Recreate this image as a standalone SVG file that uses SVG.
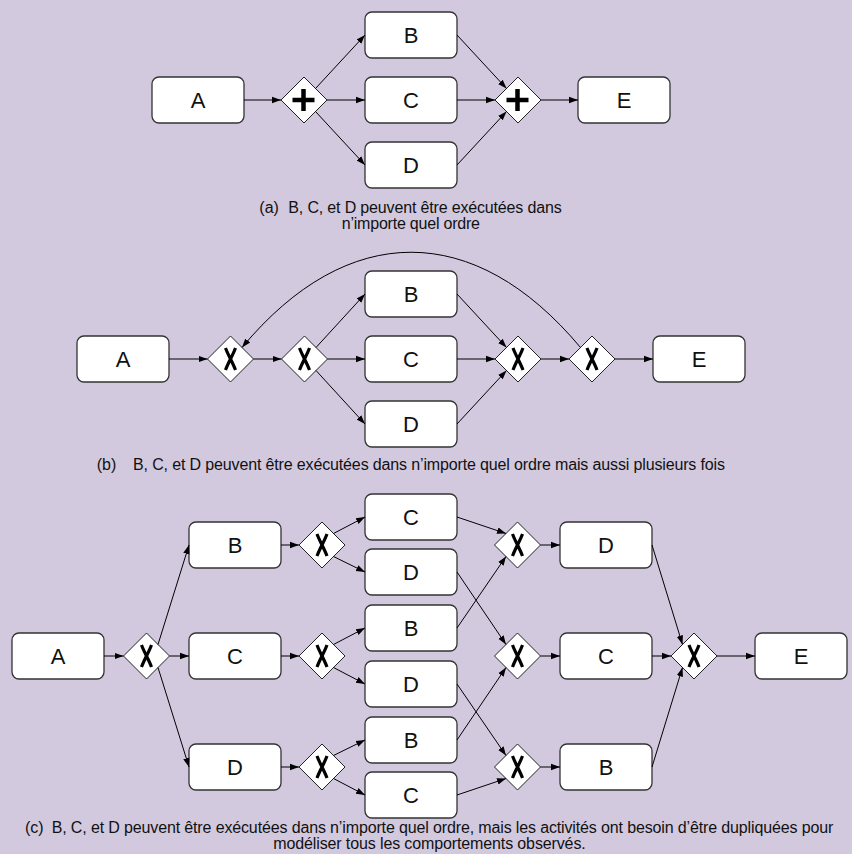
<svg xmlns="http://www.w3.org/2000/svg" xmlns:xlink="http://www.w3.org/1999/xlink" width="852" height="854" viewBox="0 0 852 854">
<style>
.bg{fill:#D2C9DF}
.box rect{fill:#fff;stroke:#333;stroke-width:1.3}
.box text{font-family:"Liberation Sans",Arial,sans-serif;font-size:22px;fill:#111;text-anchor:middle}
.gw polygon{fill:#fff;stroke:#222;stroke-width:1}
.plus{stroke:#000;stroke-width:4.5;fill:none}
.xs{stroke:#000;stroke-width:3.2;fill:none;stroke-linecap:butt}
.edges path{stroke:#000;stroke-width:1;fill:none;marker-end:url(#ah)}
.cap{font-family:"Liberation Sans",Arial,sans-serif;font-size:16px;fill:#111}
</style>
<defs>
<marker id="ah" markerUnits="userSpaceOnUse" markerWidth="10" markerHeight="8" refX="9" refY="4" orient="auto">
<path d="M0,0.8 L9,4 L0,7.2 Z" fill="#000"/>
</marker>
<path id="xg" d="M-5,-11 C-2,-3 2,3 5,11 M5,-11 C2,-3 -2,3 -5,11"/>
<path id="pg" d="M-11.5,0 H10.5 M-0.5,-11 V11"/>
</defs>
<rect class="bg" x="0" y="0" width="852" height="854"/>

<!-- (a) -->
<g id="a_A" class="box"><rect x="152" y="77" width="92" height="46" rx="7"/><text x="198" y="108">A</text></g>
<g id="a_B" class="box"><rect x="365" y="12" width="92" height="46" rx="7"/><text x="411" y="43">B</text></g>
<g id="a_C" class="box"><rect x="365" y="77" width="92" height="46" rx="7"/><text x="411" y="108">C</text></g>
<g id="a_D" class="box"><rect x="365" y="142" width="92" height="46" rx="7"/><text x="411" y="173">D</text></g>
<g id="a_E" class="box"><rect x="578" y="77" width="92" height="46" rx="7"/><text x="624" y="108">E</text></g>
<g id="a_G1" class="gw" transform="translate(304,100)"><polygon points="0,-23 23,0 0,23 -23,0"/><use xlink:href="#pg" class="plus"/></g>
<g id="a_G2" class="gw" transform="translate(518,100)"><polygon points="0,-23 23,0 0,23 -23,0"/><use xlink:href="#pg" class="plus"/></g>

<!-- (b) -->
<g id="b_A" class="box"><rect x="77" y="336" width="92" height="46" rx="7"/><text x="123" y="367">A</text></g>
<g id="b_B" class="box"><rect x="365" y="271" width="92" height="46" rx="7"/><text x="411" y="302">B</text></g>
<g id="b_C" class="box"><rect x="365" y="336" width="92" height="46" rx="7"/><text x="411" y="367">C</text></g>
<g id="b_D" class="box"><rect x="365" y="401" width="92" height="46" rx="7"/><text x="411" y="432">D</text></g>
<g id="b_E" class="box"><rect x="653" y="336" width="92" height="46" rx="7"/><text x="699" y="367">E</text></g>
<g id="b_G1" class="gw" transform="translate(230.5,359)"><polygon points="0,-23 23,0 0,23 -23,0"/><use xlink:href="#xg" class="xs"/></g>
<g id="b_G2" class="gw" transform="translate(304.5,359)"><polygon points="0,-23 23,0 0,23 -23,0"/><use xlink:href="#xg" class="xs"/></g>
<g id="b_G3" class="gw" transform="translate(518,359)"><polygon points="0,-23 23,0 0,23 -23,0"/><use xlink:href="#xg" class="xs"/></g>
<g id="b_G4" class="gw" transform="translate(592,359)"><polygon points="0,-23 23,0 0,23 -23,0"/><use xlink:href="#xg" class="xs"/></g>

<!-- (c) -->
<g id="c_A" class="box"><rect x="12" y="633" width="92" height="46" rx="7"/><text x="58" y="664">A</text></g>
<g id="c_B" class="box"><rect x="189" y="522" width="92" height="46" rx="7"/><text x="235" y="553">B</text></g>
<g id="c_C" class="box"><rect x="189" y="633" width="92" height="46" rx="7"/><text x="235" y="664">C</text></g>
<g id="c_D" class="box"><rect x="189" y="744" width="92" height="46" rx="7"/><text x="235" y="775">D</text></g>
<g id="c_C1" class="box"><rect x="365" y="494" width="92" height="46" rx="7"/><text x="411" y="525">C</text></g>
<g id="c_D1" class="box"><rect x="365" y="549" width="92" height="46" rx="7"/><text x="411" y="580">D</text></g>
<g id="c_B2" class="box"><rect x="365" y="605" width="92" height="46" rx="7"/><text x="411" y="636">B</text></g>
<g id="c_D2" class="box"><rect x="365" y="661" width="92" height="46" rx="7"/><text x="411" y="692">D</text></g>
<g id="c_B3" class="box"><rect x="365" y="717" width="92" height="46" rx="7"/><text x="411" y="748">B</text></g>
<g id="c_C3" class="box"><rect x="365" y="772" width="92" height="46" rx="7"/><text x="411" y="803">C</text></g>
<g id="c_Dr" class="box"><rect x="560" y="522" width="92" height="46" rx="7"/><text x="606" y="553">D</text></g>
<g id="c_Cr" class="box"><rect x="560" y="633" width="92" height="46" rx="7"/><text x="606" y="664">C</text></g>
<g id="c_Br" class="box"><rect x="560" y="744" width="92" height="46" rx="7"/><text x="606" y="775">B</text></g>
<g id="c_E" class="box"><rect x="755" y="633" width="92" height="46" rx="7"/><text x="801" y="664">E</text></g>
<g id="c_G0" class="gw" transform="translate(146.5,656)"><polygon points="0,-23 23,0 0,23 -23,0"/><use xlink:href="#xg" class="xs"/></g>
<g id="c_GL1" class="gw" transform="translate(322,545)"><polygon points="0,-23 23,0 0,23 -23,0"/><use xlink:href="#xg" class="xs"/></g>
<g id="c_GL2" class="gw" transform="translate(322,656)"><polygon points="0,-23 23,0 0,23 -23,0"/><use xlink:href="#xg" class="xs"/></g>
<g id="c_GL3" class="gw" transform="translate(322,767)"><polygon points="0,-23 23,0 0,23 -23,0"/><use xlink:href="#xg" class="xs"/></g>
<g id="c_GR1" class="gw" transform="translate(517.5,545)"><polygon points="0,-23 23,0 0,23 -23,0"/><use xlink:href="#xg" class="xs"/></g>
<g id="c_GR2" class="gw" transform="translate(517.5,656)"><polygon points="0,-23 23,0 0,23 -23,0"/><use xlink:href="#xg" class="xs"/></g>
<g id="c_GR3" class="gw" transform="translate(517.5,767)"><polygon points="0,-23 23,0 0,23 -23,0"/><use xlink:href="#xg" class="xs"/></g>
<g id="c_GF" class="gw" transform="translate(694,656)"><polygon points="0,-23 23,0 0,23 -23,0"/><use xlink:href="#xg" class="xs"/></g>

<g id="connectors" class="edges">
<!-- (a) -->
<path d="M244,100 L281,100"/>
<path d="M315.5,88.5 L365,35"/>
<path d="M327,100 L365,100"/>
<path d="M315.5,111.5 L365,165"/>
<path d="M457,35 L506.5,88.5"/>
<path d="M457,100 L495,100"/>
<path d="M457,165 L506.5,111.5"/>
<path d="M541,100 L578,100"/>
<!-- (b) -->
<path d="M169,359 L207.5,359"/>
<path d="M253.5,359 L281.5,359"/>
<path d="M316,347.5 L365,294"/>
<path d="M327.5,359 L365,359"/>
<path d="M316,370.5 L365,424"/>
<path d="M457,294 L506.5,347.5"/>
<path d="M457,359 L495,359"/>
<path d="M457,424 L506.5,370.5"/>
<path d="M541,359 L569,359"/>
<path d="M615,359 L653,359"/>
<path d="M580.5,347.5 C474.5,220.5 347.5,220.5 242,347.5"/>
<!-- (c) -->
<path d="M104,656 L123.5,656"/>
<path d="M158,644.5 L189,545"/>
<path d="M169.5,656 L189,656"/>
<path d="M158,667.5 L189,767"/>
<path d="M281,545 L299,545"/>
<path d="M281,656 L299,656"/>
<path d="M281,767 L299,767"/>
<path d="M333.5,533.5 L365,517"/>
<path d="M333.5,556.5 L365,572"/>
<path d="M333.5,644.5 L365,628"/>
<path d="M333.5,667.5 L365,684"/>
<path d="M333.5,755.5 L365,740"/>
<path d="M333.5,778.5 L365,795"/>
<path d="M457,517 L506,533.5"/>
<path d="M457,572 L506,644.5"/>
<path d="M457,628 L506,556.5"/>
<path d="M457,684 L506,755.5"/>
<path d="M457,740 L506,667.5"/>
<path d="M457,795 L506,778.5"/>
<path d="M540.5,545 L560,545"/>
<path d="M540.5,656 L560,656"/>
<path d="M540.5,767 L560,767"/>
<path d="M652,545 L682.5,644.5"/>
<path d="M652,656 L671,656"/>
<path d="M652,767 L682.5,667.5"/>
<path d="M717,656 L755,656"/>
</g>

<g id="captions">
<text class="cap" x="259.3" y="213">(a)</text>
<text class="cap" x="288.3" y="213" textLength="273.4">B, C, et D peuvent être exécutées dans</text>
<text class="cap" x="341.7" y="229" textLength="138.3">n’importe quel ordre</text>
<text class="cap" x="96.7" y="470">(b)</text>
<text class="cap" x="133" y="470" textLength="592">B, C, et D peuvent être exécutées dans n’importe quel ordre mais aussi plusieurs fois</text>
<text class="cap" x="25" y="833">(c)</text>
<text class="cap" x="51.7" y="833" textLength="781.6">B, C, et D peuvent être exécutées dans n’importe quel ordre, mais les activités ont besoin d’être dupliquées pour</text>
<text class="cap" x="273.3" y="849" textLength="312.4">modéliser tous les comportements observés.</text>
</g>
</svg>
